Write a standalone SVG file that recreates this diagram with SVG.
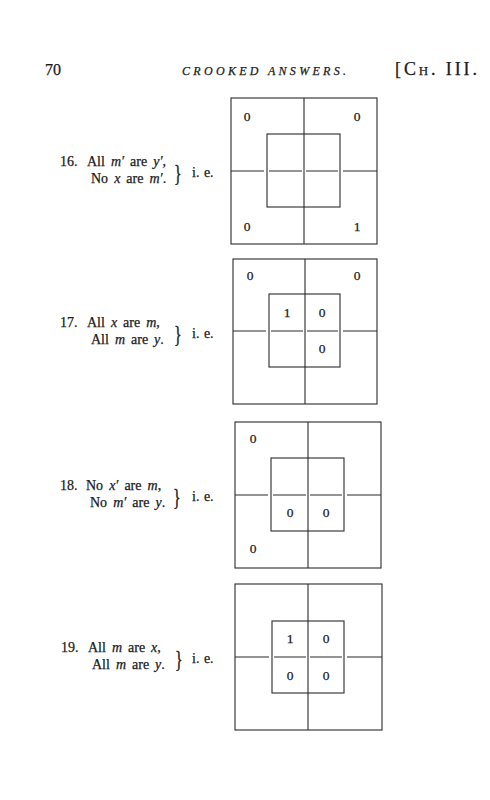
<svg xmlns="http://www.w3.org/2000/svg" width="490" height="800" viewBox="0 0 490 800">
<style>
text{font-family:"Liberation Serif","Times New Roman",serif;fill:#1a1a1a;stroke:#1a1a1a;stroke-width:0.25}
.ln{stroke:#2a2a2a;stroke-width:1.1;fill:none}
.num{font-size:13.5px;text-anchor:middle}
.lbl{font-size:14px;word-spacing:2.5px}
.i{font-style:italic}
.br{font-size:16px}
</style>
<rect width="490" height="800" fill="#fff"/>
<g id="header">
<text x="45" y="75" font-size="16">70</text>
<text x="182" y="75" font-size="12" font-style="italic" textLength="164" lengthAdjust="spacing">CROOKED ANSWERS.</text>
<text x="395" y="75" font-size="18" textLength="82" lengthAdjust="spacing">[C<tspan font-size="13">H</tspan>. III.</text>
</g>

<g id="label16" class="lbl">
<text x="60" y="166">16.</text>
<text x="87" y="166">All <tspan class="i">m′</tspan> are <tspan class="i">y′</tspan>,</text>
<text x="91" y="183">No <tspan class="i">x</tspan> are <tspan class="i">m′</tspan>.</text>
<text class="br" transform="translate(174,181) scale(1,1.5)">}</text>
<text x="192" y="177" style="word-spacing:1px">i. e.</text>
</g>

<g id="diagram16">
<rect class="ln" x="231" y="98" width="146" height="146"/>
<line class="ln" x1="304" y1="98" x2="304" y2="244"/>
<path class="ln" d="M231 171H264M269 171H302M306 171H338M343 171H377"/>
<rect class="ln" x="267" y="134" width="73" height="73"/>
<text class="num" x="247" y="121">0</text>
<text class="num" x="357" y="121">0</text>
<text class="num" x="247" y="231">0</text>
<text class="num" x="357" y="231">1</text>
</g>

<g id="label17" class="lbl">
<text x="60" y="327">17.</text>
<text x="87" y="327">All <tspan class="i">x</tspan> are <tspan class="i">m</tspan>,</text>
<text x="91" y="344">All <tspan class="i">m</tspan> are <tspan class="i">y</tspan>.</text>
<text class="br" transform="translate(174,342) scale(1,1.5)">}</text>
<text x="192" y="338" style="word-spacing:1px">i. e.</text>
</g>

<g id="diagram17">
<rect class="ln" x="233" y="259" width="144" height="145"/>
<line class="ln" x1="305" y1="259" x2="305" y2="404"/>
<path class="ln" d="M233 331H266M271 331H303M307 331H338M343 331H377"/>
<rect class="ln" x="269" y="294" width="71" height="73"/>
<text class="num" x="250" y="280">0</text>
<text class="num" x="357" y="280">0</text>
<text class="num" x="287" y="317">1</text>
<text class="num" x="322" y="317">0</text>
<text class="num" x="322" y="353">0</text>
</g>

<g id="label18" class="lbl">
<text x="60" y="490">18.</text>
<text x="86" y="490">No <tspan class="i">x′</tspan> are <tspan class="i">m</tspan>,</text>
<text x="90" y="507">No <tspan class="i">m′</tspan> are <tspan class="i">y</tspan>.</text>
<text class="br" transform="translate(173,505) scale(1,1.5)">}</text>
<text x="192" y="501" style="word-spacing:1px">i. e.</text>
</g>

<g id="diagram18">
<rect class="ln" x="235" y="422" width="146" height="146"/>
<line class="ln" x1="308" y1="422" x2="308" y2="568" stroke-width="1.8"/>
<path class="ln" d="M235 495H268M273 495H306M310 495H342M347 495H381"/>
<rect class="ln" x="271" y="458" width="73" height="73"/>
<text class="num" x="253" y="443">0</text>
<text class="num" x="253" y="553">0</text>
<text class="num" x="290" y="517">0</text>
<text class="num" x="326" y="517">0</text>
</g>

<g id="label19" class="lbl">
<text x="61" y="652">19.</text>
<text x="88" y="652">All <tspan class="i">m</tspan> are <tspan class="i">x</tspan>,</text>
<text x="92" y="669">All <tspan class="i">m</tspan> are <tspan class="i">y</tspan>.</text>
<text class="br" transform="translate(175,667) scale(1,1.5)">}</text>
<text x="192" y="663" style="word-spacing:1px">i. e.</text>
</g>

<g id="diagram19">
<rect class="ln" x="235" y="584" width="147" height="146"/>
<line class="ln" x1="308" y1="584" x2="308" y2="730"/>
<path class="ln" d="M235 657H269M274 657H306M310 657H342M347 657H382"/>
<rect class="ln" x="272" y="621" width="72" height="72"/>
<text class="num" x="290" y="643">1</text>
<text class="num" x="326" y="643">0</text>
<text class="num" x="290" y="680">0</text>
<text class="num" x="326" y="680">0</text>
</g>
<g id="connectors"/>
</svg>
